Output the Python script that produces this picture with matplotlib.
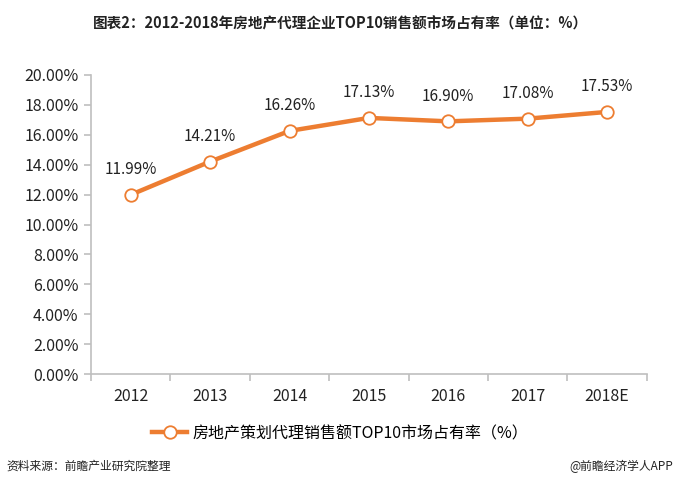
import matplotlib.pyplot as plt
from matplotlib.ticker import FuncFormatter

plt.rcParams['font.family'] = ['Noto Sans CJK SC', 'DejaVu Sans']

years = ["2012", "2013", "2014", "2015", "2016", "2017", "2018E"]
share = [11.99, 14.21, 16.26, 17.13, 16.90, 17.08, 17.53]
labels = ["11.99%", "14.21%", "16.26%", "17.13%", "16.90%", "17.08%", "17.53%"]

orange = "#ED7D31"
grey = "#BFBFBF"

fig = plt.figure(figsize=(6.8, 4.87), dpi=100)
ax = fig.add_axes([0.134, 0.232, 0.817, 0.614])

x = list(range(len(years)))
ax.plot(x, share, color=orange, lw=3.2, marker="o", ms=9,
        markerfacecolor="white", markeredgecolor=orange, markeredgewidth=1.3,
        label="房地产策划代理销售额TOP10市场占有率（%）", zorder=3)
for i, v in enumerate(share):
    ax.annotate(labels[i], (i, v), xytext=(0, 12), textcoords="offset points",
                ha="center", va="bottom", fontsize=11, color="#222222")

ax.set_xlim(-0.5, len(years) - 0.5)
ax.set_ylim(0, 20)
ax.set_yticks([i * 2 for i in range(11)])
ax.yaxis.set_major_formatter(FuncFormatter(lambda v, p: "%.2f%%" % v))
ax.set_xticks(x)
ax.set_xticklabels(years)
ax.set_xticks([i + 0.5 for i in range(-1, len(years))], minor=True)

for s in ["top", "right"]:
    ax.spines[s].set_visible(False)
for s in ["left", "bottom"]:
    ax.spines[s].set_color(grey)
    ax.spines[s].set_linewidth(1.2)
ax.tick_params(axis="y", color=grey, length=5, width=1.2, labelsize=11.5,
               labelcolor="#222222", pad=4)
ax.tick_params(axis="x", which="major", length=0, labelsize=11.5,
               labelcolor="#222222", pad=10)
ax.tick_params(axis="x", which="minor", length=5, width=1.2, color=grey)

fig.legend(loc="center", bbox_to_anchor=(0.5, 0.11), frameon=False,
           fontsize=11.5, handlelength=2.2, handletextpad=0.3)

fig.text(0.5, 0.952, "图表2：2012-2018年房地产代理企业TOP10销售额市场占有率（单位：%）",
         ha="center", va="center", fontsize=10.5, fontweight="bold", color="#222222")
fig.text(0.01, 0.042, "资料来源：前瞻产业研究院整理", ha="left", va="center",
         fontsize=8.5, style="italic", color="#222222")
fig.text(0.99, 0.042, "@前瞻经济学人APP", ha="right", va="center",
         fontsize=8.5, color="#222222")

fig.savefig("out.png", dpi=100, facecolor="white")
